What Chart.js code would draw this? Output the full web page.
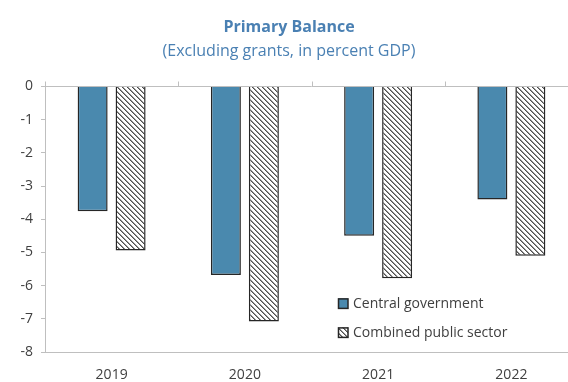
<!DOCTYPE html>
<html>
<head>
<meta charset="utf-8">
<script src="https://cdn.jsdelivr.net/npm/chart.js@4"></script>
<style>
html,body{margin:0;padding:0;background:#fff;overflow:hidden;}
#wrap{width:580px;height:382px;position:relative;}
</style>
</head>
<body>
<div id="wrap"><canvas id="c" width="580" height="382"></canvas></div>
<script>
const categories = ['2019', '2020', '2021', '2022'];
const centralGovernment = [-3.76, -5.68, -4.50, -3.41];
const combinedPublicSector = [-4.94, -7.08, -5.78, -5.10];
const seriesNames = ['Central government', 'Combined public sector'];
const yTicks = [0, -1, -2, -3, -4, -5, -6, -7, -8];

const FONT = "'Open Sans', 'Noto Sans', sans-serif";
const TEXT = '#404040';
const AXIS = '#bfbfbf';
const BLUE = '#4a89ae';
const TITLE = '#4a80b3';

function makeHatch() {
  const n = 5;
  const c = document.createElement('canvas');
  c.width = n; c.height = n;
  const g = c.getContext('2d');
  const img = g.createImageData(n, n);
  for (let y = 0; y < n; y++) {
    for (let x = 0; x < n; x++) {
      const d = ((x - y) % n + n) % n;
      let v = 255;
      if (d === 0) v = 80; else if (d === 1) v = 150;
      const i = (y * n + x) * 4;
      img.data[i] = v; img.data[i+1] = v; img.data[i+2] = v; img.data[i+3] = 255;
    }
  }
  g.putImageData(img, 0, 0);
  return document.getElementById('c').getContext('2d').createPattern(c, 'repeat');
}
const hatch = makeHatch();

const axisDecor = {
  id: 'axisDecor',
  beforeDatasetsDraw(chart) {
    const {ctx, chartArea, scales} = chart;
    const y0 = Math.round(scales.y.getPixelForValue(0)) + 0.5;
    ctx.save();
    ctx.strokeStyle = AXIS;
    ctx.lineWidth = 1;
    ctx.beginPath();
    ctx.moveTo(chartArea.left, y0);
    ctx.lineTo(chartArea.right, y0);
    const xs = scales.x;
    const n = categories.length;
    for (let i = 0; i <= n; i++) {
      const px = Math.round(xs.left + (xs.right - xs.left) * i / n) + 0.5;
      ctx.moveTo(px, y0);
      ctx.lineTo(px, y0 - 5);
    }
    ctx.stroke();
    ctx.restore();
  }
};

const insideLegend = {
  id: 'insideLegend',
  afterDraw(chart) {
    const {ctx, chartArea} = chart;
    const x = chartArea.left + 293;
    const rows = [chartArea.top + 217, chartArea.top + 246];
    ctx.save();
    ctx.font = '14px ' + FONT;
    ctx.textBaseline = 'middle';
    chart.data.datasets.forEach((ds, i) => {
      const cy = rows[i];
      ctx.fillStyle = ds.backgroundColor;
      ctx.fillRect(x, cy - 5, 10, 10);
      ctx.strokeStyle = '#262626';
      ctx.lineWidth = 1.5;
      ctx.strokeRect(x + 0.5, cy - 4.5, 9.5, 9.5);
      ctx.fillStyle = TEXT;
      ctx.fillText(ds.label, x + 15, cy + 0.5);
    });
    ctx.restore();
  }
};

new Chart(document.getElementById('c'), {
  type: 'bar',
  data: {
    labels: categories,
    datasets: [
      {label: seriesNames[0], data: centralGovernment, backgroundColor: BLUE, borderColor: '#262626', borderWidth: 1.5},
      {label: seriesNames[1], data: combinedPublicSector, backgroundColor: hatch, borderColor: '#262626', borderWidth: 1.5}
    ]
  },
  options: {
    responsive: false,
    animation: false,
    devicePixelRatio: 1,
    categoryPercentage: 0.57,
    barPercentage: 0.79,
    layout: {padding: {left: 0, right: 2, top: 0, bottom: 0}},
    plugins: {
      legend: {display: false},
      tooltip: {enabled: false},
      title: {
        display: true, text: 'Primary Balance', color: TITLE,
        font: {family: FONT, size: 16, weight: 'bold'},
        padding: {top: 18, bottom: 5}
      },
      subtitle: {
        display: true, text: '(Excluding grants, in percent GDP)', color: TITLE,
        font: {family: FONT, size: 16, weight: 'normal'},
        padding: {top: 0, bottom: 25}
      }
    },
    scales: {
      x: {
        position: 'bottom',
        grid: {display: false},
        border: {display: true, color: AXIS, width: 1},
        afterFit(scale) { scale.height = 30; },
        ticks: {color: TEXT, font: {family: FONT, size: 14}, padding: 7}
      },
      y: {
        min: -8, max: 0,
        afterBuildTicks(scale) { scale.ticks = yTicks.map(v => ({value: v})); },
        afterFit(scale) { scale.width = 45; },
        grid: {drawOnChartArea: false, drawTicks: true, tickLength: 4, color: AXIS},
        border: {display: true, color: AXIS, width: 1},
        ticks: {color: TEXT, font: {family: FONT, size: 14}, padding: 8, callback: v => String(v)}
      }
    }
  },
  plugins: [axisDecor, insideLegend]
});
</script>
</body>
</html>
